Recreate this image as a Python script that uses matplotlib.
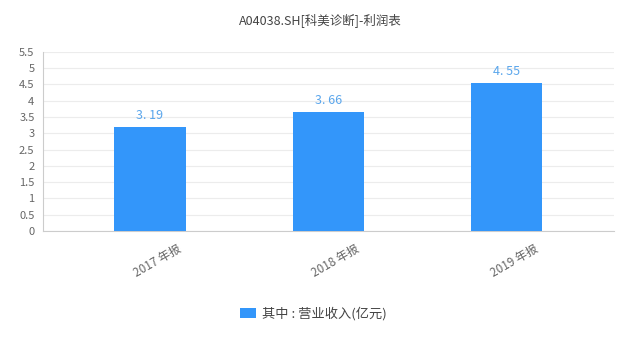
import matplotlib
matplotlib.use('Agg')
from matplotlib import pyplot as plt
from matplotlib import transforms
import numpy as np

plt.rcParams['font.family'] = ['Noto Sans CJK SC', 'DejaVu Sans']

categories = ['2017 年报', '2018 年报', '2019 年报']
revenue = [3.19, 3.66, 4.55]
value_labels = ['3. 19', '3. 66', '4. 55']
y_ticks = [0, 0.5, 1, 1.5, 2, 2.5, 3, 3.5, 4, 4.5, 5, 5.5]
y_tick_labels = ['0', '0.5', '1', '1.5', '2', '2.5', '3', '3.5', '4', '4.5', '5', '5.5']

fig = plt.figure(figsize=(6.4, 3.51), dpi=100)
ax = fig.add_axes([0.067, 0.342, 0.892, 0.51])

x = np.arange(len(categories))
bars = ax.bar(x, revenue, width=0.4, color='#3396fa', zorder=3, label='其中 : 营业收入(亿元)')

for xi, v, lab in zip(x, revenue, value_labels):
    ax.text(xi, v + 0.15, lab, ha='center', va='bottom', fontsize=9, color='#5aa6ec')

ax.set_xlim(-0.6, 2.6)
ax.set_ylim(0, 5.5)
ax.set_yticks(y_ticks)
ax.set_yticklabels(y_tick_labels)
ax.set_xticks(x)
ax.set_xticklabels(categories, rotation=30, ha='right', rotation_mode='anchor')
ax.tick_params(axis='both', length=0, labelsize=8, colors='#666666')
ax.tick_params(axis='x', labelsize=8.5)
ax.tick_params(axis='y', pad=6)
ax.tick_params(axis='x', pad=8)
shift = transforms.ScaledTranslation(0.27, 0, fig.dpi_scale_trans)
for lbl in ax.get_xticklabels():
    lbl.set_transform(lbl.get_transform() + shift)

ax.grid(axis='y', color='#ececec', linewidth=0.8, zorder=0)
for s in ['top', 'right']:
    ax.spines[s].set_visible(False)
ax.spines['left'].set_color('#cccccc')
ax.spines['bottom'].set_color('#cccccc')

fig.text(0.5, 0.94, 'A04038.SH[科美诊断]-利润表', ha='center', va='center', fontsize=9, color='#444444')

fig.legend(handles=[bars], loc='center', bbox_to_anchor=(0.49, 0.107), frameon=False,
           fontsize=9.5, labelcolor='#444444', handlelength=1.2, handleheight=0.8, handletextpad=0.5)

fig.savefig('out.png', dpi=100)
